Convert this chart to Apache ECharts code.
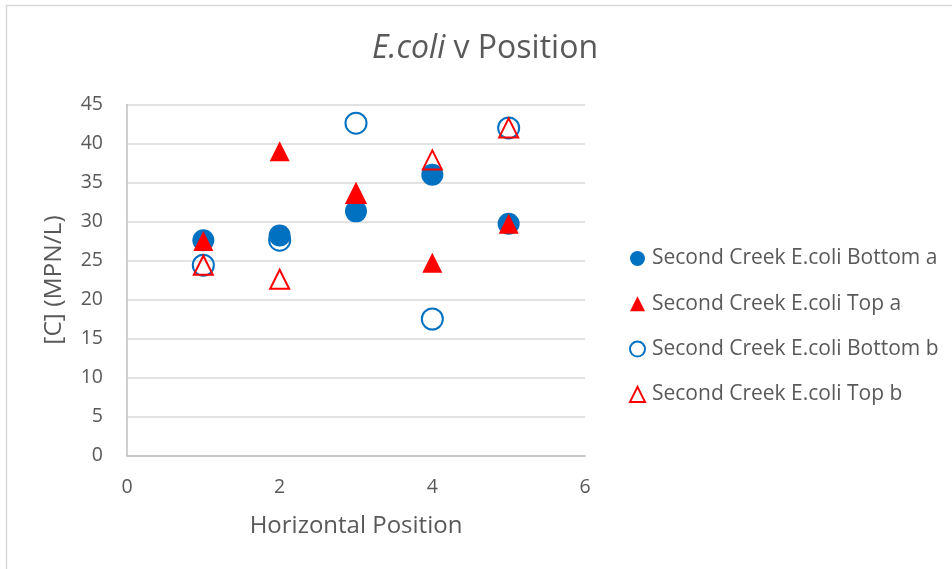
<!DOCTYPE html>
<html>
<head>
<meta charset="utf-8">
<style>
  html, body { margin: 0; padding: 0; background: #fff; }
  #chart { width: 952px; height: 569px; }
</style>
<script src="https://cdn.jsdelivr.net/npm/echarts@6/dist/echarts.min.js"></script>
</head>
<body>
<div id="chart"></div>
<script>
// Horizontal sampling positions along the creek
const positions = [1, 2, 3, 4, 5];

// E. coli concentrations, MPN/L
const bottomA = [27.6, 28.2, 31.3, 36.0, 29.7];
const topA    = [27.5, 39.0, 33.6, 24.7, 29.7];
const bottomB = [24.4, 27.6, 42.6, 17.5, 42.0];
const topB    = [24.4, 22.6, 33.6, 37.9, 42.0];

const seriesNames = [
  'Second Creek E.coli Bottom a',
  'Second Creek E.coli Top a',
  'Second Creek E.coli Bottom b',
  'Second Creek E.coli Top b'
];

const BLUE = '#0070C0';
const RED = '#FF0000';
const TEXT = '#595959';
const FONT = '"Open Sans", "Noto Sans", sans-serif';

const pairs = (ys) => positions.map((x, i) => [x, ys[i]]);

const chart = echarts.init(document.getElementById('chart'), null, { renderer: 'canvas' });

chart.setOption({
  backgroundColor: '#fff',
  animation: false,
  textStyle: { fontFamily: FONT, color: TEXT },
  graphic: [{
    type: 'rect',
    shape: { x: 6.5, y: 5.5, width: 1000, height: 600 },
    style: { fill: 'none', stroke: '#D9D9D9', lineWidth: 1.5 },
    silent: true,
    z: -10
  }],
  title: {
    text: '{i|E.coli} v Position',
    left: 480,
    textAlign: 'center',
    top: 28,
    textStyle: {
      fontFamily: FONT,
      fontSize: 32,
      fontWeight: 'normal',
      color: TEXT,
      rich: {
        i: { fontFamily: FONT, fontSize: 32, fontStyle: 'italic', color: TEXT }
      }
    }
  },
  legend: {
    orient: 'vertical',
    left: 629,
    top: 248,
    padding: 0,
    itemGap: 24.3,
    itemWidth: 15,
    itemHeight: 15,
    textStyle: { fontFamily: FONT, fontSize: 21, color: TEXT, padding: [0, 0, 0, 2] },
    data: seriesNames
  },
  grid: { left: 127, right: 367, top: 104.5, bottom: 113.5, containLabel: false },
  xAxis: {
    type: 'value',
    min: 0, max: 6, interval: 2,
    name: 'Horizontal Position',
    nameLocation: 'middle',
    nameGap: 59,
    nameMoveOverlap: false,
    nameTextStyle: { fontFamily: FONT, fontSize: 24, color: TEXT },
    axisLine: { show: true, lineStyle: { color: '#BFBFBF', width: 1.5 } },
    axisTick: { show: false },
    axisLabel: { margin: 22, fontFamily: FONT, fontSize: 19.5, color: TEXT },
    splitLine: { show: false }
  },
  yAxis: {
    type: 'value',
    min: 0, max: 45, interval: 5,
    name: '[C] (MPN/L)',
    nameLocation: 'middle',
    nameGap: 60,
    nameMoveOverlap: false,
    nameRotate: 90,
    nameTextStyle: { fontFamily: FONT, fontSize: 24.5, color: TEXT },
    axisLine: { show: true, lineStyle: { color: '#BFBFBF', width: 1.5 } },
    axisTick: { show: false },
    axisLabel: { margin: 24, fontFamily: FONT, fontSize: 19.5, color: TEXT },
    splitLine: { show: true, lineStyle: { color: '#D9D9D9', width: 1.5 } }
  },
  series: [
    {
      name: seriesNames[0], type: 'scatter', symbol: 'circle', symbolSize: 22,
      itemStyle: { color: BLUE, opacity: 1 },
      data: pairs(bottomA)
    },
    {
      name: seriesNames[1], type: 'scatter', symbol: 'triangle', symbolSize: 20,
      itemStyle: { color: RED, opacity: 1 },
      data: pairs(topA)
    },
    {
      name: seriesNames[2], type: 'scatter', symbol: 'circle', symbolSize: 21,
      itemStyle: { color: 'rgba(255,255,255,0)', borderColor: BLUE, borderWidth: 2, opacity: 1 },
      data: pairs(bottomB)
    },
    {
      name: seriesNames[3], type: 'scatter', symbol: 'triangle', symbolSize: 19,
      itemStyle: { color: 'rgba(255,255,255,0)', borderColor: RED, borderWidth: 2, opacity: 1 },
      data: pairs(topB)
    }
  ]
});
</script>
</body>
</html>
